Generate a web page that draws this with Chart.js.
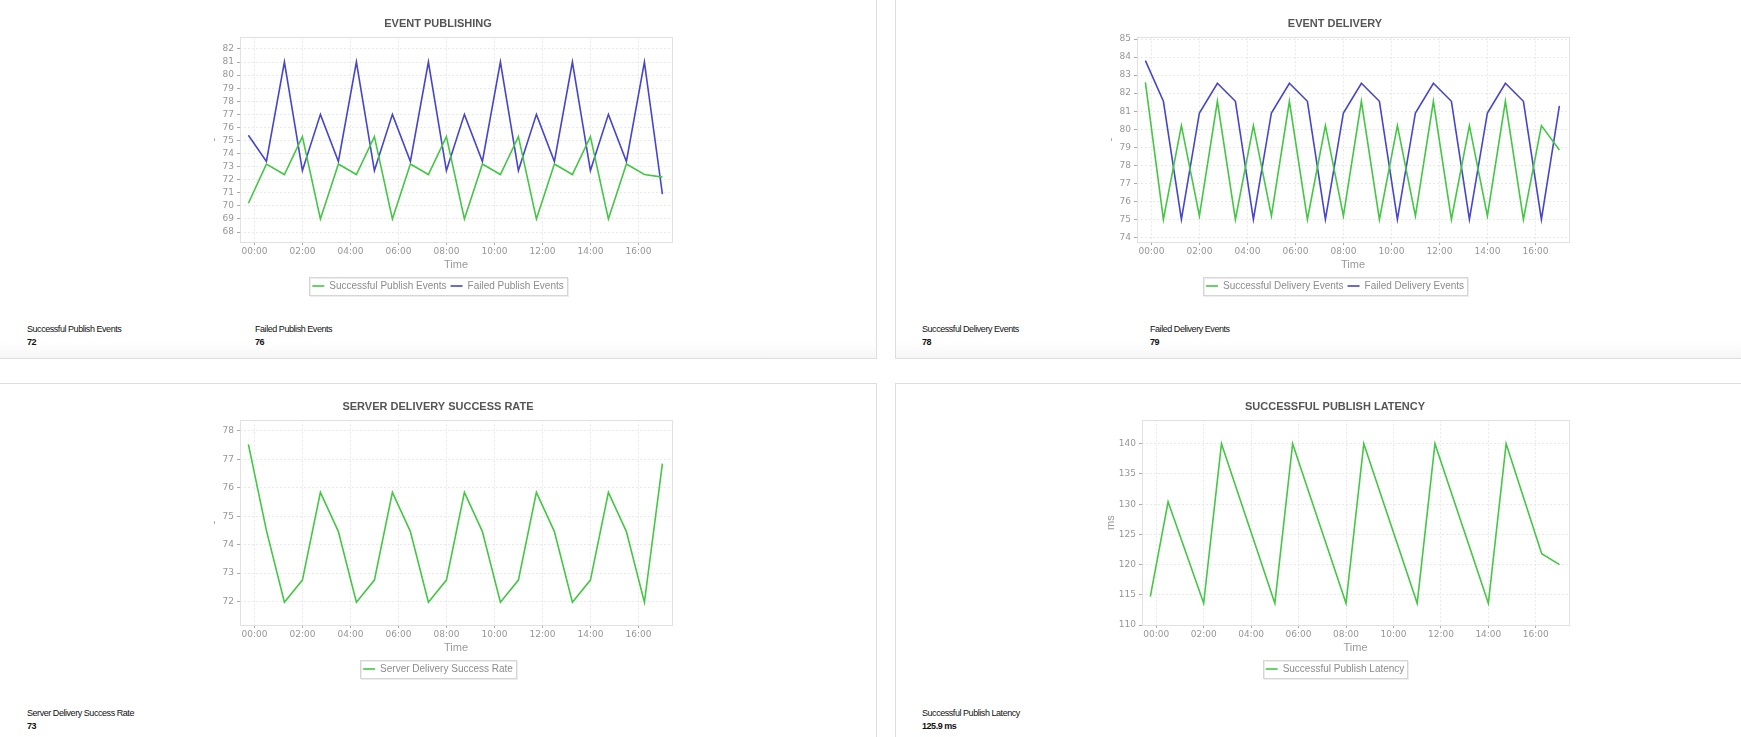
<!DOCTYPE html>
<html>
<head>
<meta charset="utf-8">
<script src="https://cdn.jsdelivr.net/npm/chart.js@4.4.1/dist/chart.umd.min.js"></script>
<style>
  body { margin: 0; width: 1741px; height: 737px; overflow: hidden; background: #fff; position: relative;
         font-family: "Liberation Sans", Arial, sans-serif; }
  .panel { position: absolute; width: 878px; border: 1px solid #dedede; box-sizing: border-box; background: #fff; }
  .top { top: -1px; height: 360px; background: linear-gradient(to bottom, #fff calc(100% - 16px), #f6f6f6); }
  .bottom { top: 383px; height: 420px; }
  canvas { position: absolute; }
  .stat { position: absolute; font-size: 9px; letter-spacing: -0.45px; color: #111; line-height: 13px; white-space: nowrap; }
  .stat b { display: block; }
</style>
</head>
<body>
<div class="panel top" style="left:-1px"></div>
<div class="panel top" style="left:895px"></div>
<div class="panel bottom" style="left:-1px"></div>
<div class="panel bottom" style="left:895px"></div>

<canvas id="c1" width="480" height="302" style="left:198px;top:0px"></canvas>
<canvas id="c2" width="480" height="302" style="left:1095px;top:0px"></canvas>
<canvas id="c3" width="480" height="302" style="left:198px;top:383px"></canvas>
<canvas id="c4" width="480" height="302" style="left:1095px;top:383px"></canvas>

<div class="stat" style="left:27px;top:323px">Successful Publish Events<b>72</b></div>
<div class="stat" style="left:255px;top:323px">Failed Publish Events<b>76</b></div>
<div class="stat" style="left:922px;top:323px">Successful Delivery Events<b>78</b></div>
<div class="stat" style="left:1150px;top:323px">Failed Delivery Events<b>79</b></div>
<div class="stat" style="left:27px;top:707px">Server Delivery Success Rate<b>73</b></div>
<div class="stat" style="left:922px;top:707px">Successful Publish Latency<b>125.9 ms</b></div>

<script>
// sample times (first one is 23:45 of the previous day)
const times = ["23:45", "00:30", "01:15", "02:00", "02:45", "03:30", "04:15", "05:00",
               "05:45", "06:30", "07:15", "08:00", "08:45", "09:30", "10:15", "11:00",
               "11:45", "12:30", "13:15", "14:00", "14:45", "15:30", "16:15", "17:00"];

const publishSuccess = [70.2, 73.2, 72.4, 75.3, 69.0, 73.2, 72.4, 75.3, 69.0, 73.2, 72.4, 75.3,
                        69.0, 73.2, 72.4, 75.3, 69.0, 73.2, 72.4, 75.3, 69.0, 73.2, 72.4, 72.2];
const publishFailed = [75.4, 73.4, 81.0, 72.7, 77.0, 73.4, 81.0, 72.7, 77.0, 73.4, 81.0, 72.7,
                       77.0, 73.4, 81.0, 72.7, 77.0, 73.4, 81.0, 72.7, 77.0, 73.4, 81.0, 70.9];

const deliverySuccess = [82.6, 75.0, 80.2, 75.2, 81.55, 75.0, 80.2, 75.2, 81.55, 75.0, 80.2, 75.2,
                         81.55, 75.0, 80.2, 75.2, 81.55, 75.0, 80.2, 75.2, 81.55, 75.0, 80.2, 78.85];
const deliveryFailed = [83.8, 81.55, 75.0, 80.9, 82.55, 81.55, 75.0, 80.9, 82.55, 81.55, 75.0, 80.9,
                        82.55, 81.55, 75.0, 80.9, 82.55, 81.55, 75.0, 80.9, 82.55, 81.55, 75.0, 81.3];

const successRate = [77.53, 74.5, 71.97, 72.75, 75.84, 74.46, 71.97, 72.75, 75.84, 74.46, 71.97, 72.75,
                     75.84, 74.46, 71.97, 72.75, 75.84, 74.46, 71.97, 72.75, 75.84, 74.46, 71.97, 76.85];

const latency = [114.7, 130.4, 122.0, 113.6, 140.0, 131.2, 122.4, 113.6, 140.0, 131.2, 122.4, 113.6,
                 140.0, 131.2, 122.4, 113.6, 140.0, 131.2, 122.4, 113.6, 140.0, 130.9, 121.8, 120.0];

const timeTicks = [0, 2, 4, 6, 8, 10, 12, 14, 16];
const publishTicks = [68, 69, 70, 71, 72, 73, 74, 75, 76, 77, 78, 79, 80, 81, 82];
const deliveryTicks = [74, 75, 76, 77, 78, 79, 80, 81, 82, 83, 84, 85];
const rateTicks = [72, 73, 74, 75, 76, 77, 78];
const latencyTicks = [110, 115, 120, 125, 130, 135, 140];

const GREEN = "#44c744";
const BLUE = "#4646cc";

// hours relative to midnight; the 23:45 sample sits just left of 00:00
const hours = times.map(t => {
  const [h, m] = t.split(":").map(Number);
  let v = h + m / 60;
  if (v > 20) v -= 24;
  return v;
});

const pad2 = n => (n < 10 ? "0" : "") + n;

const framePlugin = {
  id: "frame",
  beforeDatasetsDraw(chart) {
    const ctx = chart.ctx, a = chart.chartArea;
    ctx.save();
    ctx.strokeStyle = "#e1e1e1";
    ctx.lineWidth = 1;
    ctx.strokeRect(Math.round(a.left) + 0.5, Math.round(a.top) + 0.5,
                   Math.round(a.right - a.left), Math.round(a.bottom - a.top));
    ctx.restore();
  },
  afterDraw(chart) {
    const ctx = chart.ctx;
    const hb = chart.legend.legendHitBoxes;
    if (!hb || !hb.length) return;
    const l = Math.round(Math.min(...hb.map(b => b.left)) - 3);
    const r = Math.round(Math.max(...hb.map(b => b.left + b.width)) + 3);
    const t = Math.round(hb[0].top - 4);
    const h = Math.round(hb[0].height + 8);
    ctx.save();
    ctx.lineWidth = 1;
    ctx.strokeStyle = "#ececec";
    ctx.strokeRect(l + 1.5, t + 1.5, r - l, h);
    ctx.strokeStyle = "#d6d6d6";
    ctx.strokeRect(l + 0.5, t + 0.5, r - l, h);
    ctx.restore();
  }
};

function makeChart(id, title, series, yTicks, yMin, yMax, yTitle, yWidth) {
  const ctx = document.getElementById(id).getContext("2d");
  return new Chart(ctx, {
    type: "line",
    data: {
      datasets: series.map(s => ({
        label: s.label,
        data: hours.map((h, i) => ({ x: h, y: s.values[i] })),
        borderColor: s.color,
        backgroundColor: s.color,
        borderWidth: 1.6,
        pointRadius: 0,
        tension: 0,
        fill: false
      }))
    },
    options: {
      responsive: false,
      animation: false,
      layout: { padding: { top: 17, right: 6, bottom: 1, left: 6 } },
      plugins: {
        title: {
          display: true,
          text: title,
          color: "#555",
          font: { family: "Liberation Sans", size: 11, weight: "bold" },
          padding: { top: 0, bottom: 7 }
        },
        legend: {
          position: "bottom",
          labels: {
            usePointStyle: true,
            pointStyle: "line",
            pointStyleWidth: 12,
            color: "#8c8c8c",
            font: { family: "Liberation Sans", size: 10 },
            padding: 4
          }
        },
        tooltip: { enabled: false }
      },
      scales: {
        x: {
          type: "linear",
          min: -0.6,
          max: 17.4,
          afterBuildTicks: s => { s.ticks = timeTicks.map(v => ({ value: v })); },
          afterFit: s => { s.height = 35; },
          ticks: {
            callback: v => pad2(v) + ":00",
            color: "#969696",
            font: { family: "DejaVu Sans", size: 9 },
            padding: 1,
            maxRotation: 0,
            autoSkip: false
          },
          grid: { color: "#e9e9e9", tickColor: "#aaa", tickLength: 3, tickBorderDash: [] },
          border: { display: false, dash: [2, 2] },
          title: {
            display: true,
            text: "Time",
            color: "#999",
            font: { family: "Liberation Sans", size: 11 },
            padding: { top: 1, bottom: 5.6 }
          }
        },
        y: {
          min: yMin,
          max: yMax,
          afterBuildTicks: s => { s.ticks = yTicks.map(v => ({ value: v })); },
          afterFit: s => { s.width = yWidth; },
          ticks: {
            color: "#969696",
            font: { family: "DejaVu Sans", size: 9 },
            padding: 3
          },
          grid: { color: "#e9e9e9", tickColor: "#aaa", tickLength: 3, tickBorderDash: [] },
          border: { display: false, dash: [2, 2] },
          title: {
            display: true,
            text: yTitle,
            color: "#999",
            font: { family: "Liberation Sans", size: 11 },
            padding: { top: 3.4, bottom: 0 }
          }
        }
      }
    },
    plugins: [framePlugin]
  });
}

makeChart("c1", "EVENT PUBLISHING", [
  { label: "Successful Publish Events", values: publishSuccess, color: GREEN },
  { label: "Failed Publish Events", values: publishFailed, color: BLUE }
], publishTicks, 67.24, 82.9, "-", 36);

makeChart("c2", "EVENT DELIVERY", [
  { label: "Successful Delivery Events", values: deliverySuccess, color: GREEN },
  { label: "Failed Delivery Events", values: deliveryFailed, color: BLUE }
], deliveryTicks, 73.75, 85.1, "-", 36);

makeChart("c3", "SERVER DELIVERY SUCCESS RATE", [
  { label: "Server Delivery Success Rate", values: successRate, color: GREEN }
], rateTicks, 71.17, 78.38, "-", 36);

makeChart("c4", "SUCCESSFUL PUBLISH LATENCY", [
  { label: "Successful Publish Latency", values: latency, color: GREEN }
], latencyTicks, 110, 143.9, "ms", 41);
</script>
</body>
</html>
